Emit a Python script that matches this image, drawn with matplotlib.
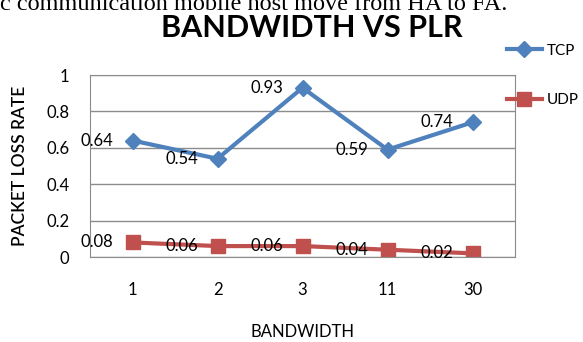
import matplotlib.pyplot as plt

# Data
bandwidth = ["1", "2", "3", "11", "30"]
tcp_plr = [0.64, 0.54, 0.93, 0.59, 0.74]
udp_plr = [0.08, 0.06, 0.06, 0.04, 0.02]
y_ticks = [0, 0.2, 0.4, 0.6, 0.8, 1]
y_tick_labels = ["0", "0.2", "0.4", "0.6", "0.8", "1"]

tcp_color = "#4F81BD"
udp_color = "#C0504D"
grid_color = "#8C8C8C"

plt.rcParams["font.family"] = ["Lato", "DejaVu Sans"]

fig = plt.figure(figsize=(5.83, 3.42), dpi=100)
ax = fig.add_axes([90 / 583, 1 - 257 / 342, 425 / 583, 182 / 342])

x = range(len(bandwidth))
ax.plot(x, tcp_plr, color=tcp_color, lw=3, marker="D", ms=8, label="TCP")
ax.plot(x, udp_plr, color=udp_color, lw=3, marker="s", ms=10, label="UDP")

# data labels sit to the left of each point
for xi, v in zip(x, tcp_plr):
    ax.annotate(f"{v:g}", (xi, v), xytext=(-14, 0), textcoords="offset points",
                ha="right", va="center", fontsize=12)
for xi, v in zip(x, udp_plr):
    ax.annotate(f"{v:g}", (xi, v), xytext=(-14, 0), textcoords="offset points",
                ha="right", va="center", fontsize=12)

ax.set_xlim(-0.5, len(bandwidth) - 0.5)
ax.set_ylim(0, 1)
ax.set_xticks(list(x))
ax.set_xticklabels(bandwidth, fontsize=12)
ax.set_yticks(y_ticks)
ax.set_yticklabels(y_tick_labels, fontsize=12)
ax.tick_params(axis="both", length=0)
ax.tick_params(axis="y", pad=15)
ax.tick_params(axis="x", pad=18)
ax.yaxis.grid(True, color=grid_color, lw=1)
ax.set_axisbelow(True)
for s in ax.spines.values():
    s.set_color(grid_color)

ax.set_ylabel("PACKET LOSS RATE", fontsize=12.5, fontweight="semibold")
ax.yaxis.set_label_coords(-0.146, 0.5)
ax.set_xlabel("BANDWIDTH", fontsize=12, labelpad=19)

fig.text(0.535, 1 - 37 / 342, "BANDWIDTH VS PLR", ha="center", va="baseline",
         fontsize=22, fontweight="bold")
# cut-off sentence from the page above the chart
fig.text(0.0, 1 - 5 / 342, "c communication mobile host move from HA to FA.",
         ha="left", va="center", fontsize=17.5, family="Liberation Serif")

fig.legend(loc="upper left", bbox_to_anchor=(493 / 583, 1 - 30 / 342), frameon=False,
           fontsize=11, handlelength=2.3, labelspacing=2.3, handletextpad=0.3)

fig.savefig("out.png", dpi=100)
